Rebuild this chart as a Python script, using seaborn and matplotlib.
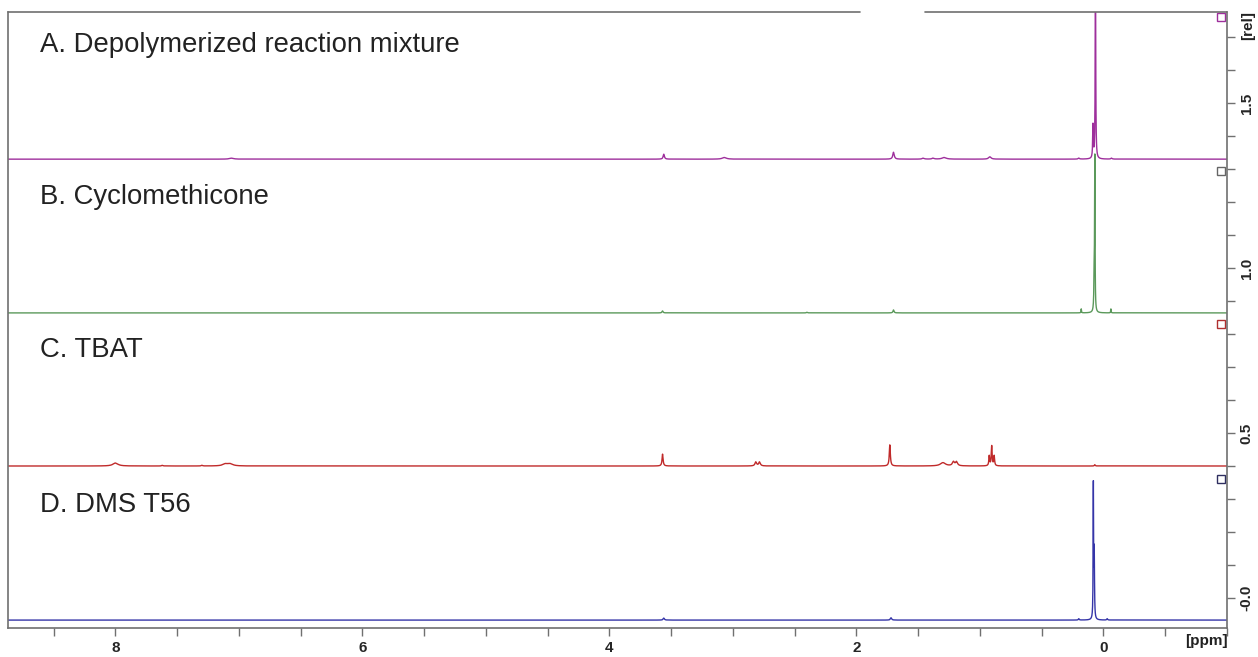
import numpy as np
import pandas as pd
import matplotlib
matplotlib.use("Agg")
import matplotlib.pyplot as plt
import seaborn as sns
from matplotlib.ticker import MultipleLocator, FixedLocator, FixedFormatter

# ---------------- data ----------------
spectrum_names = ["A. Depolymerized reaction mixture", "B. Cyclomethicone",
                  "C. TBAT", "D. DMS T56"]
baselines = [1.330, 0.864, 0.400, -0.067]          # stacking offsets [rel]
label_y = [1.676, 1.215, 0.752, 0.282]
colors = ["#9e2f9c", "#5b995b", "#c02a2a", "#3535a8"]
marker_colors = ["#9e2f9c", "#666666", "#b03030", "#2f2f60"]
marker_y = [1.762, 1.295, 0.829, 0.362]

# peaks: ppm, height, half width (ppm)
peaks_A_ppm = [0.065, 0.085, 0.20, -0.065, 3.56, 3.07, 1.70, 1.46, 1.38, 1.29, 0.92, 7.06]
peaks_A_h   = [0.60, 0.10, 0.003, 0.003, 0.015, 0.005, 0.021, 0.003, 0.003, 0.005, 0.007, 0.003]
peaks_A_w   = [0.0025, 0.003, 0.006, 0.006, 0.006, 0.02, 0.007, 0.01, 0.01, 0.02, 0.012, 0.02]

peaks_B_ppm = [0.070, 0.075, 0.18, -0.06, 3.57, 2.40, 1.70]
peaks_B_h   = [0.45, 0.12, 0.012, 0.012, 0.006, 0.002, 0.009]
peaks_B_w   = [0.002, 0.003, 0.002, 0.002, 0.005, 0.005, 0.005]

peaks_C_ppm = [8.00, 7.62, 7.30, 7.11, 7.07, 3.57, 2.815, 2.785, 1.73,
               1.30, 1.215, 1.19, 0.925, 0.905, 0.885, 0.07]
peaks_C_h   = [0.009, 0.002, 0.002, 0.006, 0.006, 0.036, 0.012, 0.012, 0.064,
               0.010, 0.012, 0.012, 0.030, 0.060, 0.030, 0.004]
peaks_C_w   = [0.025, 0.006, 0.006, 0.025, 0.025, 0.005, 0.008, 0.008, 0.005,
               0.025, 0.01, 0.01, 0.004, 0.004, 0.004, 0.004]

peaks_D_ppm = [0.082, 0.075, 0.20, -0.03, 3.56, 1.72]
peaks_D_h   = [0.40, 0.20, 0.004, 0.004, 0.006, 0.007]
peaks_D_w   = [0.002, 0.0025, 0.004, 0.004, 0.006, 0.006]

x_major = [8, 6, 4, 2, 0]
y_major = [0.0, 0.5, 1.0, 1.5]
y_major_labels = ["-0.0", "0.5", "1.0", "1.5"]
x_lim = (8.87, -1.0)
y_lim = (-0.091, 1.776)

# ---------------- build the spectra ----------------
ppm = np.arange(-1.0, 8.87, 0.0005)
peak_sets = [(peaks_A_ppm, peaks_A_h, peaks_A_w), (peaks_B_ppm, peaks_B_h, peaks_B_w),
             (peaks_C_ppm, peaks_C_h, peaks_C_w), (peaks_D_ppm, peaks_D_h, peaks_D_w)]
frames = []
for name, base, (pp, hh, ww) in zip(spectrum_names, baselines, peak_sets):
    y = np.full_like(ppm, base)
    for p, h, w in zip(pp, hh, ww):
        y += h * w**2 / ((ppm - p) ** 2 + w**2)
    frames.append(pd.DataFrame({"ppm": ppm, "rel": y, "spectrum": name}))
df = pd.concat(frames, ignore_index=True)

# ---------------- plot ----------------
sns.set_theme(style="white")
plt.rcParams["font.family"] = ["Liberation Sans", "DejaVu Sans"]

fig = plt.figure(figsize=(12.58, 6.57), dpi=100)
ax = fig.add_axes([8 / 1258, 29 / 657, 1219 / 1258, 616 / 657])

# draw bottom spectrum first so upper ones lie on top
for name, col in reversed(list(zip(spectrum_names, colors))):
    sns.lineplot(data=df[df["spectrum"] == name], x="ppm", y="rel", color=col,
                 linewidth=1.0, estimator=None, sort=False, ax=ax, legend=False)

for name, ly in zip(spectrum_names, label_y):
    ax.text(8.61, ly, name, fontsize=19.8, color="#222222", ha="left", va="center")

for my, mc in zip(marker_y, marker_colors):
    ax.plot([-0.955], [my], marker="s", markersize=6.3, markerfacecolor="white",
            markeredgecolor=mc, markeredgewidth=1.0, linestyle="none", clip_on=False)

ax.set_xlim(*x_lim)
ax.set_ylim(*y_lim)
ax.set_xlabel("")
ax.set_ylabel("")

spine_col = "#707070"
for s in ["left", "right", "bottom"]:
    ax.spines[s].set_color(spine_col)
    ax.spines[s].set_linewidth(1.2)
ax.spines["top"].set_visible(False)
ax.plot([0, 852 / 1219], [1, 1], transform=ax.transAxes, color=spine_col,
        linewidth=1.2, clip_on=False)
ax.plot([917 / 1219, 1], [1, 1], transform=ax.transAxes, color=spine_col,
        linewidth=1.2, clip_on=False)

ax.xaxis.set_major_locator(FixedLocator(x_major))
ax.xaxis.set_minor_locator(MultipleLocator(0.5))
ax.tick_params(axis="x", which="both", direction="out", length=6, width=1,
               color=spine_col, pad=3, labelsize=11, bottom=True)
for lab in ax.get_xticklabels():
    lab.set_fontweight("bold")

ax.yaxis.tick_right()
ax.yaxis.set_major_locator(FixedLocator(y_major))
ax.yaxis.set_major_formatter(FixedFormatter(y_major_labels))
ax.yaxis.set_minor_locator(MultipleLocator(0.1))
ax.tick_params(axis="y", which="both", direction="out", length=6, width=1,
               color=spine_col, pad=3, labelsize=11, right=True, left=False)
for lab in ax.get_yticklabels():
    lab.set_fontweight("bold")
    lab.set_rotation(90)
    lab.set_va("center")

fig.text(1228 / 1258, 1 - 641 / 657, "[ppm]", fontsize=11, fontweight="bold",
         ha="right", va="center", color="#222222")
fig.text(1248 / 1258, 1 - 25 / 657, "[rel]", fontsize=11, fontweight="bold",
         ha="center", va="center", rotation=90, color="#222222")

fig.savefig("out.png", dpi=100)
